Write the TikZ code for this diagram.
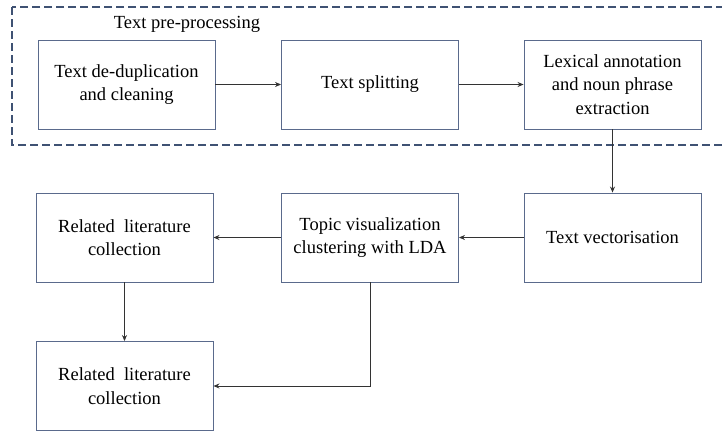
\documentclass[tikz,border=0pt]{standalone}
\usepackage{fontspec}
\setmainfont{Liberation Serif}
\usepackage{xcolor}
\usetikzlibrary{arrows.meta,positioning}
\definecolor{boxline}{HTML}{5A6A8C}
\definecolor{dashline}{HTML}{3F5273}
\begin{document}
\begin{tikzpicture}[x=1pt, y=-1pt, font=\rmfamily\fontsize{18.5}{23.5}\selectfont,
  stage/.style={draw=boxline, line width=0.9pt, minimum width=177pt,
    minimum height=89pt, align=center, inner sep=2pt},
  flow/.style={draw=black!80, line width=0.9pt, -{Stealth[length=6pt, width=5pt]}}]
  \useasboundingbox (0,0) rectangle (722,432);
  % Pre-processing frame
  \draw[dashline, line width=1.2pt, dash pattern=on 8pt off 4pt]
    (12,7) rectangle (740,145);
  \node (pretitle) at (187,24) {Text pre-processing};
  % Stages
  \node[stage] (dedup) at (126.5,84.5) {Text de-duplication\\and cleaning};
  \node[stage] (split) at (370,84.5) {Text splitting};
  \node[stage] (lexical) at (612.5,84.5) {Lexical annotation\\and noun phrase\\extraction};
  \node[stage] (vector) at (612.5,237.5) {Text vectorisation};
  \node[stage] (topic) at (370,237.5) {Topic visualization\\clustering with LDA};
  \node[stage] (related) at (124.5,237.5) {Related\ \ literature\\collection};
  \node[stage] (collect) at (124.5,386) {Related\ \ literature\\collection};
  % Arrows
  \draw[flow] (dedup) -- (split);
  \draw[flow] (split) -- (lexical);
  \draw[flow] (lexical) -- (vector);
  \draw[flow] (vector) -- (topic);
  \draw[flow] (topic) -- (related);
  \draw[flow] (related) -- (collect);
  \draw[flow] (topic.south) |- (collect.east);
\end{tikzpicture}
\end{document}
